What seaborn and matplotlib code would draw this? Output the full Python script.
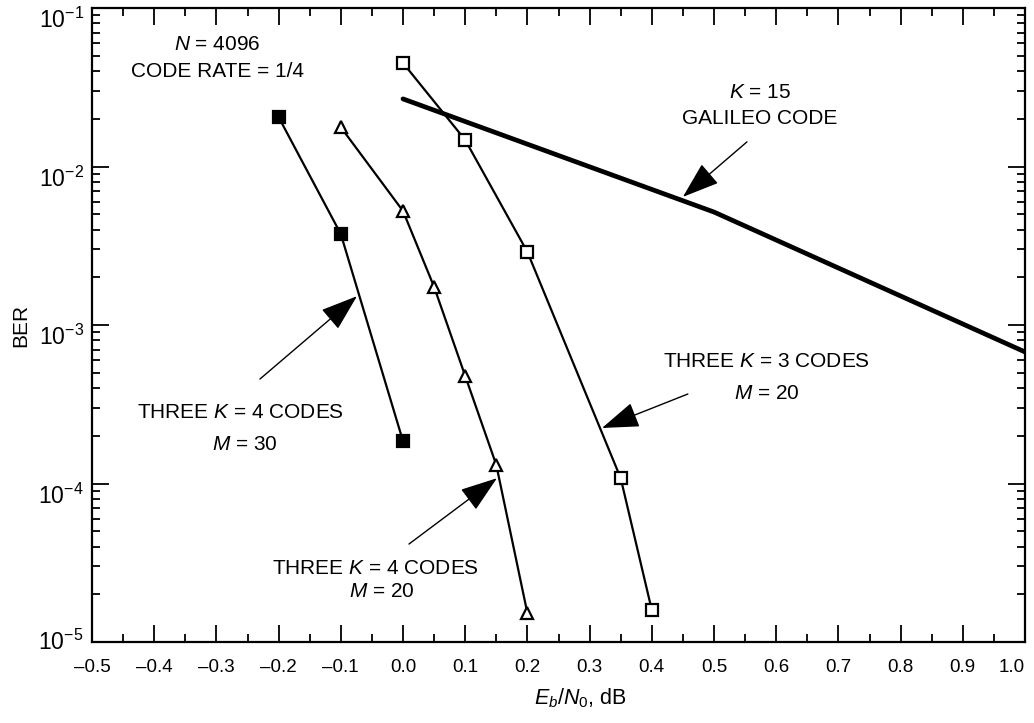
import matplotlib
matplotlib.use("Agg")
import matplotlib.pyplot as plt
import matplotlib.ticker as mticker
import numpy as np
import seaborn as sns

# Eb/N0 (dB) and BER
x_k4_m30 = [-0.2, -0.1, 0.0]
ber_k4_m30 = [0.0205, 0.00375, 1.85e-4]

x_k4_m20 = [-0.1, 0.0, 0.05, 0.1, 0.15, 0.2]
ber_k4_m20 = [0.0177, 0.00524, 0.00174, 4.77e-4, 1.31e-4, 1.52e-5]

x_k3_m20 = [0.0, 0.1, 0.2, 0.35, 0.4]
ber_k3_m20 = [0.045, 0.0147, 0.00289, 1.08e-4, 1.59e-5]

x_galileo = [0.0, 0.5, 1.0]
ber_galileo = [0.0267, 0.00516, 6.76e-4]

x_ticks = [-0.5, -0.4, -0.3, -0.2, -0.1, 0.0, 0.1, 0.2, 0.3, 0.4, 0.5, 0.6, 0.7, 0.8, 0.9, 1.0]
y_ticks = [1e-5, 1e-4, 1e-3, 1e-2, 1e-1]

sns.set_style("ticks")
plt.rcParams["font.family"] = ["Liberation Sans", "DejaVu Sans"]
plt.rcParams["mathtext.fontset"] = "custom"
plt.rcParams["mathtext.rm"] = "Liberation Sans"
plt.rcParams["mathtext.it"] = "Liberation Sans:italic"
plt.rcParams["mathtext.bf"] = "Liberation Sans:bold"
for key in ["text.color", "axes.labelcolor", "xtick.color", "ytick.color", "axes.edgecolor"]:
    plt.rcParams[key] = "black"

fig = plt.figure(figsize=(10.34, 7.23), dpi=100)
ax = fig.add_axes([92 / 1034, 81 / 723, 933 / 1034, 634 / 723])

line_kw = dict(color="k", linewidth=1.6, markeredgecolor="k", markeredgewidth=1.6,
               sort=False, estimator=None)
sns.lineplot(x=x_galileo, y=ber_galileo, ax=ax, color="k", linewidth=3.4, sort=False, estimator=None)
sns.lineplot(x=x_k4_m30, y=ber_k4_m30, ax=ax, marker="s", markersize=8,
             markerfacecolor="k", **line_kw)
sns.lineplot(x=x_k4_m20, y=ber_k4_m20, ax=ax, marker="^", markersize=9,
             markerfacecolor="w", **line_kw)
sns.lineplot(x=x_k3_m20, y=ber_k3_m20, ax=ax, marker="s", markersize=8,
             markerfacecolor="w", **line_kw)

ax.set_yscale("log")
ax.set_xlim(-0.5, 1.0)
ax.set_ylim(1e-5, 1e-1)
ax.set_xticks(x_ticks)
ax.xaxis.set_minor_locator(mticker.MultipleLocator(0.05))
ax.set_xticklabels([f"{v:.1f}".replace("-", "\u2013") for v in x_ticks])
ax.set_yticks(y_ticks)
ax.yaxis.set_minor_locator(mticker.LogLocator(base=10, subs=np.arange(2, 10)))
ax.yaxis.set_minor_formatter(mticker.NullFormatter())
ax.set_yticklabels(["$10^{-%d}$" % k for k in [5, 4, 3, 2, 1]])

ax.tick_params(which="both", direction="in", top=True, right=True, color="k", width=1.3)
ax.tick_params(which="major", length=12)
ax.tick_params(which="minor", length=6)
ax.tick_params(axis="x", labelsize=13.5, pad=12)
ax.tick_params(axis="y", labelsize=16.5, pad=6)
for lab in ax.get_yticklabels():
    lab.set_va("top")
ax.get_yticklabels()[0].set_va("center")
ax.get_xticklabels()[-1].set_ha("right")
ax.get_xticklabels()[-1].set_x(1.0)
for sp in ax.spines.values():
    sp.set_linewidth(1.6)
    sp.set_color("k")

ax.set_xlabel(r"$E_b/N_0$, dB", fontsize=15.5)
ax.set_ylabel("BER", fontsize=15)
ax.xaxis.set_label_coords(0.524, -0.07)
ax.yaxis.set_label_coords(-0.066, 0.5)

fs = 15
ax.text(-0.299, 0.0585, r"$N$ = 4096", fontsize=fs, ha="center", va="center")
ax.text(-0.299, 0.0395, "CODE RATE = 1/4", fontsize=fs, ha="center", va="center")
ax.text(0.574, 0.0295, r"$K$ = 15", fontsize=fs, ha="center", va="center")
ax.text(0.574, 0.0202, "GALILEO CODE", fontsize=fs, ha="center", va="center")
ax.text(-0.262, 2.82e-4, r"THREE $K$ = 4 CODES", fontsize=fs, ha="center", va="center")
ax.text(-0.254, 1.75e-4, r"$M$ = 30", fontsize=fs, ha="center", va="center")
ax.text(-0.045, 2.93e-5, r"THREE $K$ = 4 CODES", fontsize=fs, ha="center", va="center")
ax.text(-0.034, 2.07e-5, r"$M$ = 20", fontsize=fs, ha="center", va="center")
ax.text(0.584, 5.85e-4, r"THREE $K$ = 3 CODES", fontsize=fs, ha="center", va="center")
ax.text(0.585, 3.72e-4, r"$M$ = 20", fontsize=fs, ha="center", va="center")

arrow = dict(arrowstyle="-|>,head_length=1.3,head_width=0.45", color="k",
             lw=1.0, mutation_scale=18, shrinkA=0, shrinkB=0)
ax.annotate("", xy=(0.450, 0.00643), xytext=(0.553, 0.0143), arrowprops=arrow)
ax.annotate("", xy=(-0.074, 1.52e-3), xytext=(-0.230, 4.56e-4), arrowprops=arrow)
ax.annotate("", xy=(0.151, 1.08e-4), xytext=(0.0096, 4.15e-5), arrowprops=arrow)
ax.annotate("", xy=(0.320, 2.24e-4), xytext=(0.458, 3.67e-4), arrowprops=arrow)

fig.savefig("out.png", dpi=100)
